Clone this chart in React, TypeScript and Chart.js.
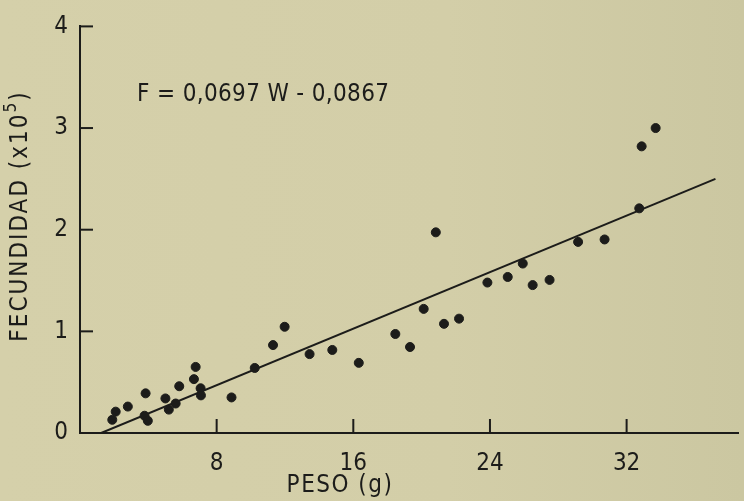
import React, { useEffect, useRef } from "react";
import { Chart, registerables } from "chart.js";

Chart.register(...registerables);

const pesoW = [
  1.89, 2.09, 2.8, 3.78, 3.84, 3.97, 5.0, 5.2, 5.6, 5.81, 6.67, 6.77, 7.06, 7.08, 8.87,
  10.23, 11.3, 11.98, 13.44, 14.77, 16.32, 18.46, 19.32, 20.12, 20.83, 21.31, 22.19,
  23.85, 25.04, 25.92, 26.5, 27.49, 29.16, 30.71, 32.74, 32.88, 33.7,
];
const fecundidadF = [
  0.13, 0.21, 0.26, 0.17, 0.39, 0.12, 0.34, 0.23, 0.29, 0.46, 0.53, 0.65, 0.44, 0.37, 0.35,
  0.64, 0.865, 1.045, 0.776, 0.817, 0.69, 0.974, 0.846, 1.221, 1.974, 1.074, 1.125,
  1.48, 1.535, 1.667, 1.455, 1.506, 1.88, 1.904, 2.21, 2.82, 3.0,
];
const lineW = [1.24, 37.2];
const lineF = [0, 2.5];
const xTicks = [8, 16, 24, 32];
const yTicks = [0, 1, 2, 3, 4];
const equationText = "F = 0,0697 W - 0,0867";
const xTitle = "PESO (g)";
const yTitleMain = "FECUNDIDAD (x10";
const yTitleSup = "5";
const yTitleEnd = ")";

const INK = "#1c1c1a";
const FONT = "'DejaVu Sans Condensed', 'DejaVu Sans', sans-serif";

export default function App() {
  const ref = useRef<HTMLCanvasElement | null>(null);
  useEffect(() => {
    if (!ref.current) return;
    const overlay = {
      id: "overlay",
      afterDraw(chart: any) {
        const ctx = chart.ctx;
        const xs = chart.scales.x;
        const ys = chart.scales.y;
        ctx.save();
        ctx.strokeStyle = INK;
        ctx.lineWidth = 2;
        // inward ticks
        xTicks.forEach((v) => {
          const px = xs.getPixelForValue(v);
          ctx.beginPath();
          ctx.moveTo(px, ys.bottom);
          ctx.lineTo(px, ys.bottom - 14);
          ctx.stroke();
        });
        yTicks.forEach((v) => {
          if (v === 0) return;
          const py = ys.getPixelForValue(v);
          ctx.beginPath();
          ctx.moveTo(xs.left, py);
          ctx.lineTo(xs.left + 13, py);
          ctx.stroke();
        });
        ctx.fillStyle = INK;
        ctx.font = `24px ${FONT}`;
        ctx.textBaseline = "middle";
        (ctx as any).letterSpacing = "0.35px";
        ctx.textAlign = "left";
        ctx.fillText(equationText, 137, 95);
        (ctx as any).letterSpacing = "1.5px";
        ctx.textAlign = "center";
        ctx.fillText(xTitle, 340, 486);
        // y title rotated, with superscript
        ctx.translate(21, 216);
        ctx.rotate(-Math.PI / 2);
        (ctx as any).letterSpacing = "2px";
        ctx.font = `24px ${FONT}`;
        const w1 = ctx.measureText(yTitleMain).width;
        ctx.font = `17px ${FONT}`;
        const w2 = ctx.measureText(yTitleSup).width;
        ctx.font = `24px ${FONT}`;
        const w3 = ctx.measureText(yTitleEnd).width;
        const total = w1 + w2 + w3;
        let x0 = -total / 2;
        ctx.textAlign = "left";
        ctx.fillText(yTitleMain, x0, 0);
        x0 += w1;
        ctx.font = `17px ${FONT}`;
        ctx.fillText(yTitleSup, x0, -9);
        x0 += w2;
        ctx.font = `24px ${FONT}`;
        ctx.fillText(yTitleEnd, x0, 0);
        ctx.restore();
      },
    };
    const chart = new Chart(ref.current, {
      type: "scatter",
      data: {
        datasets: [
          {
            data: pesoW.map((w, i) => ({ x: w, y: fecundidadF[i] })),
            backgroundColor: INK,
            borderColor: INK,
            pointRadius: 4.5,
            pointHoverRadius: 4.5,
          },
          {
            type: "line",
            data: lineW.map((w, i) => ({ x: w, y: lineF[i] })),
            borderColor: INK,
            borderWidth: 2,
            pointRadius: 0,
            showLine: true,
            fill: false,
          } as any,
        ],
      },
      plugins: [overlay],
      options: {
        animation: false,
        responsive: false,
        maintainAspectRatio: false,
        layout: { padding: { top: 17, right: 0, left: 0, bottom: 0 } },
        plugins: { legend: { display: false }, tooltip: { enabled: false }, title: { display: false } },
        scales: {
          x: {
            type: "linear",
            min: 0,
            max: 38.55,
            afterBuildTicks: (s: any) => {
              s.ticks = xTicks.map((v) => ({ value: v }));
            },
            afterFit: (s: any) => {
              s.height = 68;
            },
            grid: { display: false, drawTicks: false },
            border: { display: true, color: INK, width: 2 },
            ticks: {
              color: INK,
              font: { family: FONT, size: 24 },
              padding: 16,
              maxRotation: 0,
              autoSkip: false,
            },
          },
          y: {
            type: "linear",
            min: 0,
            max: 4,
            afterBuildTicks: (s: any) => {
              s.ticks = yTicks.map((v) => ({ value: v }));
            },
            afterFit: (s: any) => {
              s.width = 80;
            },
            grid: { display: false, drawTicks: false },
            border: { display: true, color: INK, width: 2 },
            ticks: {
              color: INK,
              font: { family: FONT, size: 24 },
              padding: 12,
              autoSkip: false,
            },
          },
        },
      },
    });
    return () => chart.destroy();
  }, []);
  return (
    <div
      style={{
        position: "fixed",
        left: 0,
        top: 0,
        width: 744,
        height: 501,
        background: "linear-gradient(90deg, #d5d0aa 0%, #d3cea8 60%, #cbc7a1 100%)",
      }}
    >
      <canvas ref={ref} width={744} height={501} style={{ display: "block", width: 744, height: 501 }} />
    </div>
  );
}
